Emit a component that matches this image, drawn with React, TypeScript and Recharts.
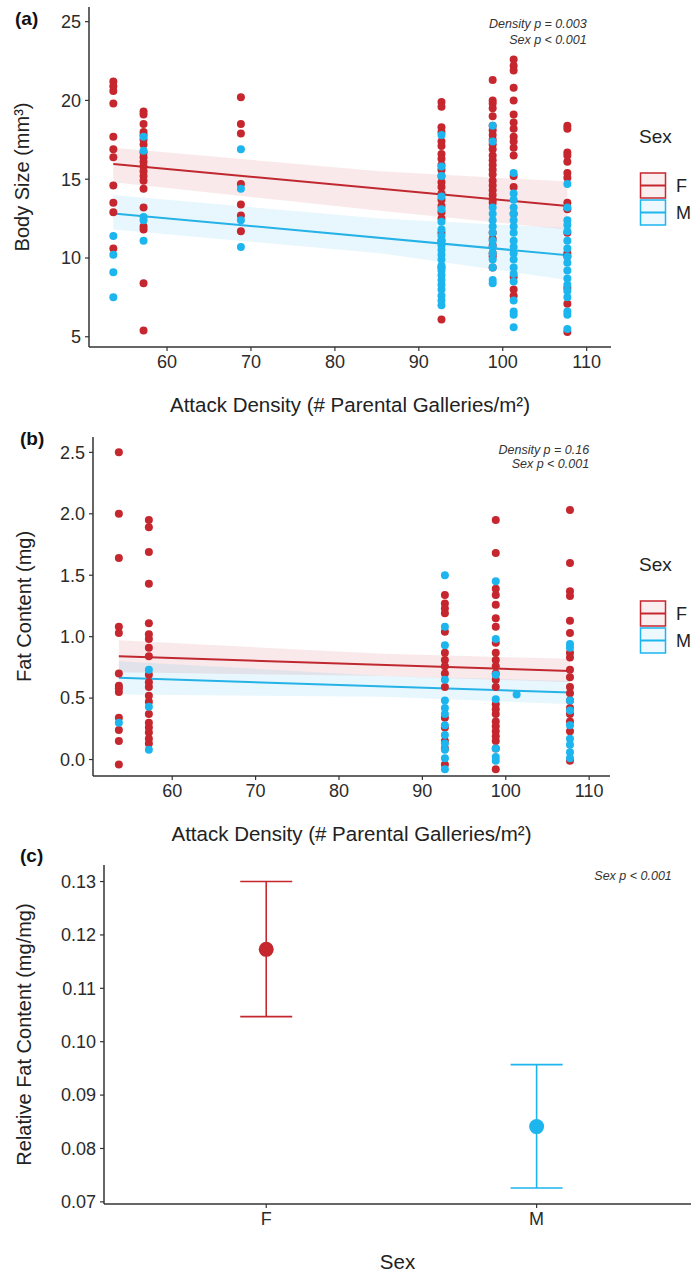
import React from 'react'
import { ComposedChart, Scatter, Line, Area, XAxis, YAxis, Label, ReferenceDot, ErrorBar } from 'recharts'

const RED = '#C6262E'
const BLUE = '#1DB5EE'
const AXIS = '#333333'
const TEXT = '#222222'
const FONT = '"Liberation Sans", Arial, Helvetica, sans-serif'

const sexes = ['F', 'M']
const sexColors = [RED, BLUE]

// attack density of each sampled tree (# parental galleries / m2)
const densities = [53.6, 57.2, 68.8, 92.7, 98.8, 101.3, 107.7]
const densityTicks = [60, 70, 80, 90, 100, 110]

// (a) body size, one list per density column
const bodyF = [
  [21.2, 20.9, 20.6, 19.8, 17.7, 16.9, 16.4, 14.6, 13.5, 12.9, 10.6],
  [19.3, 19.1, 18.5, 18.0, 17.8, 17.5, 17.2, 16.7, 16.4, 16.1, 15.8, 15.5, 15.2, 14.9, 14.4, 13.2, 12.0, 11.8, 8.4, 5.4],
  [20.2, 18.5, 17.9, 14.7, 13.4, 12.7, 11.7],
  [19.9, 19.6, 18.3, 18.0, 17.4, 17.1, 16.6, 16.3, 15.9, 15.6, 15.2, 14.8, 14.5, 14.1, 13.7, 13.3, 12.9, 12.5, 11.6, 11.1, 9.4, 6.1],
  [21.3, 20.0, 19.8, 19.5, 19.0, 18.4, 18.1, 17.8, 17.5, 17.2, 16.9, 16.5, 16.2, 15.9, 15.6, 15.3, 14.9, 14.6, 14.3, 14.0, 13.7, 13.5, 11.6, 11.2, 10.8, 10.3, 10.1, 9.4],
  [22.6, 22.2, 21.9, 20.8, 20.0, 19.1, 18.6, 18.2, 17.7, 17.4, 17.0, 16.5, 15.2, 14.5, 12.8, 8.8, 8.0, 7.6],
  [18.4, 18.2, 16.7, 16.5, 16.1, 15.4, 15.1, 13.5, 13.1, 11.6, 10.3, 10.1, 8.1, 7.1, 5.3],
]
const bodyM = [
  [11.4, 10.2, 9.1, 7.5],
  [17.7, 16.8, 12.6, 12.4, 11.1],
  [16.9, 14.4, 12.4, 10.7],
  [17.8, 15.8, 15.2, 13.9, 13.1, 12.3, 11.8, 11.4, 11.1, 10.8, 10.5, 10.2, 9.9, 9.5, 9.2, 8.9, 8.6, 8.3, 8.0, 7.6, 7.3, 7.0],
  [18.4, 17.4, 13.2, 12.8, 12.4, 12.0, 11.6, 11.1, 10.7, 10.3, 9.9, 9.4, 8.6, 8.4],
  [15.4, 14.1, 13.7, 13.2, 12.8, 12.4, 12.0, 11.6, 11.1, 10.7, 10.3, 9.9, 9.4, 9.0, 8.5, 7.3, 6.6, 6.4, 5.6],
  [14.7, 13.2, 12.4, 12.1, 11.7, 11.1, 10.6, 10.1, 9.7, 9.2, 8.7, 8.3, 7.9, 7.5, 6.6, 6.4, 5.5],
]
const bodyTicks = [5, 10, 15, 20, 25]

// fitted lines + confidence bands (read at both ends and mid range)
const fitX = [53.6, 107.7]
const bodyFitF = [15.96, 13.3]
const bodyFitM = [12.83, 10.18]
const bandX = [53.6, 85.4, 107.7]
const bodyBandF = [[14.8, 17.0], [13.0, 15.5], [11.8, 14.85]]
const bodyBandM = [[11.8, 14.0], [10.3, 12.5], [8.6, 11.9]]

// (b) fat content
const fatF = [
  [2.5, 2.0, 1.64, 1.08, 1.03, 0.7, 0.6, 0.58, 0.55, 0.34, 0.24, 0.15, -0.04],
  [1.95, 1.89, 1.69, 1.43, 1.11, 1.02, 0.98, 0.91, 0.84, 0.69, 0.63, 0.59, 0.52, 0.47, 0.37, 0.3, 0.26, 0.22, 0.17, 0.13],
  [],
  [1.34, 1.27, 1.23, 1.19, 1.04, 0.87, 0.81, 0.76, 0.7, 0.59, 0.34, 0.26, 0.15, 0.09, -0.04],
  [1.95, 1.68, 1.39, 1.34, 1.26, 1.15, 1.08, 0.95, 0.87, 0.81, 0.76, 0.7, 0.65, 0.59, 0.45, 0.41, 0.37, 0.31, 0.27, 0.23, 0.19, 0.15, 0.09, -0.08],
  [],
  [2.03, 1.6, 1.37, 1.33, 1.13, 1.03, 0.87, 0.83, 0.73, 0.67, 0.59, 0.54, 0.48, 0.42, 0.37, 0.31, 0.23, -0.01],
]
const fatM = [
  [0.3],
  [0.73, 0.43, 0.08],
  [],
  [1.5, 1.08, 0.93, 0.65, 0.48, 0.42, 0.37, 0.28, 0.2, 0.13, 0.08, 0.01, -0.08],
  [1.45, 0.98, 0.69, 0.49, 0.09, 0.02, -0.01],
  [0.53],
  [0.94, 0.91, 0.48, 0.4, 0.28, 0.17, 0.12, 0.06, 0.01],
]
const fatTicks = [0, 0.5, 1, 1.5, 2, 2.5]
const fatFitF = [0.84, 0.72]
const fatFitM = [0.665, 0.545]
const fatBandF = [[0.71, 0.97], [0.68, 0.86], [0.63, 0.82]]
const fatBandM = [[0.53, 0.8], [0.51, 0.68], [0.45, 0.64]]

// (c) relative fat content, mean with confidence interval
const relFatMean = [0.1173, 0.0841]
const relFatLower = [0.1047, 0.0726]
const relFatUpper = [0.13, 0.0957]
const relFatTicks = [0.07, 0.08, 0.09, 0.1, 0.11, 0.12, 0.13]

const toPoints = (cols: number[][]) => cols.flatMap((vals, i) => vals.map((v) => ({ x: densities[i], y: v })))
const toFit = (ys: number[]) => fitX.map((x, i) => ({ x, y: ys[i] }))
const toBand = (b: number[][]) => bandX.map((x, i) => ({ x, band: b[i] }))

const dot = (color: string, r: number) => (p: any) => <circle cx={p.cx} cy={p.cy} r={r} fill={color} />

const note = (lines: string[], lineGap: number) => (p: any) => (
  <text x={p.cx} y={p.cy} textAnchor="end" fontSize={12.5} fontStyle="italic" fill="#333" fontFamily={FONT}>
    {lines.map((l, i) => (
      <tspan key={i} x={p.cx} dy={i === 0 ? 0 : lineGap}>{l}</tspan>
    ))}
  </text>
)

const xTitle = (text: string) => (p: any) => {
  const vb = p.viewBox || { x: 0, y: 0, width: 0 }
  return <text x={vb.x + vb.width / 2} y={vb.y + 65} textAnchor="middle" fontSize={20.5} fill={TEXT}>{text}</text>
}

const yTitle = (text: string, cx: number) => (p: any) => {
  const vb = p.viewBox || { x: 0, y: 0, height: 0 }
  const cy = vb.y + vb.height / 2
  return (
    <text x={vb.x + cx} y={cy} transform={`rotate(-90 ${vb.x + cx} ${cy})`} textAnchor="middle" dominantBaseline="central" fontSize={20} fill={TEXT}>
      {text}
    </text>
  )
}

const tag = (text: string, dx: number, dy: number) => (p: any) => {
  const vb = p.viewBox || { x: 0, y: 0 }
  return <text x={vb.x + dx} y={vb.y + dy} fontSize={19} fontWeight="bold" fill="#111">{text}</text>
}

function SexLegend({ top }: { top: number }) {
  return (
    <svg style={{ position: 'absolute', left: 632, top }} width={59} height={110} fontFamily={FONT}>
      <text x={7} y={18} fontSize={19} fill={TEXT}>Sex</text>
      {sexes.map((s, i) => (
        <g key={s}>
          <rect x={8.5} y={48 + i * 27} width={25} height={25} fill={sexColors[i]} fillOpacity={0.08} stroke={sexColors[i]} strokeWidth={1.5} />
          <line x1={8.5} x2={33.5} y1={60.5 + i * 27} y2={60.5 + i * 27} stroke={sexColors[i]} strokeWidth={2} />
          <text x={44} y={60.5 + i * 27} dominantBaseline="central" fontSize={18} fill={TEXT}>{s}</text>
        </g>
      ))}
    </svg>
  )
}

const axisProps = {
  axisLine: { stroke: AXIS, strokeWidth: 1.5 },
  tickLine: { stroke: AXIS, strokeWidth: 1.2 },
  tick: { fill: '#2b2b2b', fontSize: 18 },
  tickSize: 4,
  allowDataOverflow: true,
  interval: 0 as const,
}

function DensityPanel(props: {
  top: number
  height: number
  marginTop: number
  yWidth: number
  marginRight: number
  xHeight: number
  xDomain: number[]
  yDomain: number[]
  yTicks: number[]
  yFormat: (v: number) => string
  ptsF: { x: number; y: number }[]
  ptsM: { x: number; y: number }[]
  fitF: number[]
  fitM: number[]
  bandF: number[][]
  bandM: number[][]
  yLabel: string
  yLabelX: number
  tagText: string
  tagDx: number
  tagDy: number
  noteLines: string[]
  noteY: number
  noteGap: number
}) {
  return (
    <div style={{ position: 'absolute', left: 0, top: props.top }}>
      <ComposedChart width={691} height={props.height} margin={{ top: props.marginTop, right: props.marginRight, bottom: 0, left: 0 }}>
        <XAxis type="number" dataKey="x" domain={props.xDomain} ticks={densityTicks} height={props.xHeight} tickMargin={4} {...axisProps}>
          <Label content={xTitle('Attack Density (# Parental Galleries/m²)')} />
        </XAxis>
        <YAxis type="number" dataKey="y" domain={props.yDomain} ticks={props.yTicks} tickFormatter={props.yFormat} width={props.yWidth} tickMargin={4} {...axisProps}>
          <Label content={yTitle(props.yLabel, props.yLabelX)} />
          <Label content={tag(props.tagText, props.tagDx, props.tagDy)} />
        </YAxis>
        <Scatter data={props.ptsF} dataKey="y" fill={RED} shape={dot(RED, 4)} isAnimationActive={false} />
        <Scatter data={props.ptsM} dataKey="y" fill={BLUE} shape={dot(BLUE, 4)} isAnimationActive={false} />
        <Area data={toBand(props.bandF)} dataKey="band" type="linear" stroke="none" fill={RED} fillOpacity={0.1} isAnimationActive={false} />
        <Area data={toBand(props.bandM)} dataKey="band" type="linear" stroke="none" fill={BLUE} fillOpacity={0.1} isAnimationActive={false} />
        <Line data={toFit(props.fitF)} dataKey="y" type="linear" stroke="#C0282F" strokeWidth={2} dot={false} isAnimationActive={false} />
        <Line data={toFit(props.fitM)} dataKey="y" type="linear" stroke="#25B2E6" strokeWidth={2} dot={false} isAnimationActive={false} />
        <ReferenceDot x={110} y={props.noteY} r={0} shape={note(props.noteLines, props.noteGap)} />
      </ComposedChart>
    </div>
  )
}

export default function App() {
  const relF = [{ x: 1, y: relFatMean[0], err: [relFatMean[0] - relFatLower[0], relFatUpper[0] - relFatMean[0]] }]
  const relM = [{ x: 2, y: relFatMean[1], err: [relFatMean[1] - relFatLower[1], relFatUpper[1] - relFatMean[1]] }]
  return (
    <div style={{ position: 'absolute', left: 0, top: 0, width: 691, height: 1276, background: '#fff', fontFamily: FONT, overflow: 'hidden' }}>
      <DensityPanel
        top={0} height={420} marginTop={7} yWidth={89} marginRight={80} xHeight={73}
        xDomain={[50.7, 112.9]} yDomain={[4.35, 25.93]} yTicks={bodyTicks} yFormat={(v) => String(v)}
        ptsF={toPoints(bodyF)} ptsM={toPoints(bodyM)} fitF={bodyFitF} fitM={bodyFitM} bandF={bodyBandF} bandM={bodyBandM}
        yLabel="Body Size (mm³)" yLabelX={22} tagText="(a)" tagDx={15} tagDy={18}
        noteLines={['Density p = 0.003', 'Sex p < 0.001']} noteY={24.6} noteGap={16}
      />
      <DensityPanel
        top={420} height={432} marginTop={17} yWidth={93} marginRight={81} xHeight={76}
        xDomain={[50.5, 112.5]} yDomain={[-0.134, 2.625]} yTicks={fatTicks} yFormat={(v) => v.toFixed(1)}
        ptsF={toPoints(fatF)} ptsM={toPoints(fatM)} fitF={fatFitF} fitM={fatFitM} bandF={fatBandF} bandM={fatBandM}
        yLabel="Fat Content (mg)" yLabelX={24} tagText="(b)" tagDx={20} tagDy={8}
        noteLines={['Density p = 0.16', 'Sex p < 0.001']} noteY={2.485} noteGap={14}
      />
      <SexLegend top={125} />
      <SexLegend top={553} />
      <div style={{ position: 'absolute', left: 0, top: 840 }}>
        <ComposedChart width={691} height={436} margin={{ top: 25, right: 0, bottom: 0, left: 0 }}>
          <XAxis type="number" dataKey="x" domain={[0.4, 2.571]} ticks={[1, 2]} tickFormatter={(v) => sexes[v - 1]} height={72} tickMargin={4} {...axisProps}>
            <Label content={xTitle('Sex')} />
          </XAxis>
          <YAxis type="number" dataKey="y" domain={[0.0696, 0.1331]} ticks={relFatTicks} tickFormatter={(v) => v.toFixed(2)} width={104} tickMargin={4} {...axisProps}>
            <Label content={yTitle('Relative Fat Content (mg/mg)', 24)} />
            <Label content={tag('(c)', 20, -3.5)} />
          </YAxis>
          <Scatter data={relF} dataKey="y" fill={RED} shape={dot(RED, 7.5)} isAnimationActive={false}>
            <ErrorBar dataKey="err" direction="y" width={26} stroke={RED} strokeWidth={1.6} />
          </Scatter>
          <Scatter data={relM} dataKey="y" fill={BLUE} shape={dot(BLUE, 7.5)} isAnimationActive={false}>
            <ErrorBar dataKey="err" direction="y" width={26} stroke={BLUE} strokeWidth={1.6} />
          </Scatter>
          <ReferenceDot x={2.5} y={0.1302} r={0} shape={note(['Sex p < 0.001'], 0)} />
        </ComposedChart>
      </div>
    </div>
  )
}
